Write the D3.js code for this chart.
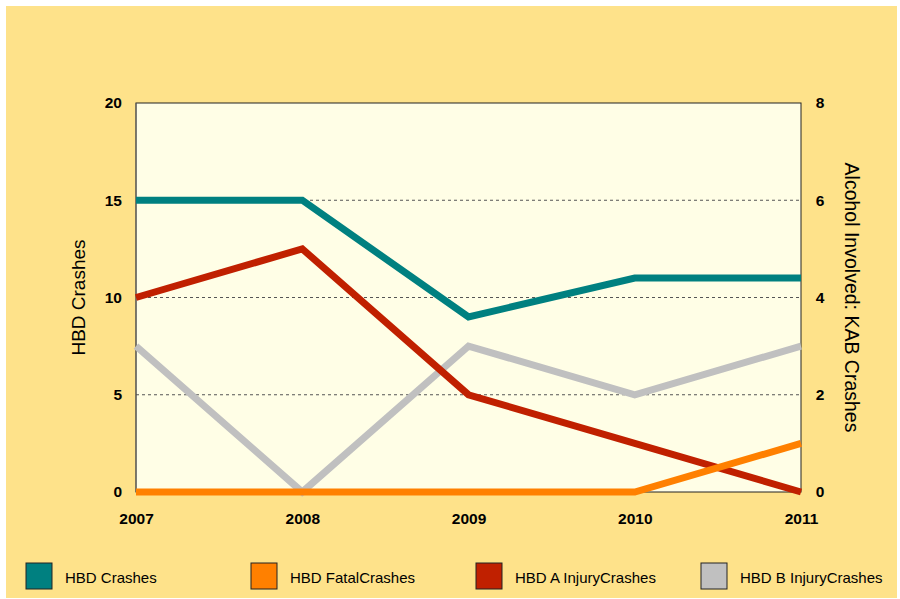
<!DOCTYPE html>
<html>
<head>
<meta charset="utf-8">
<script src="https://cdn.jsdelivr.net/npm/d3@7"></script>
<style>
  body { margin: 0; background: #fff; }
  text { font-family: "Liberation Sans", Arial, sans-serif; }
</style>
</head>
<body>
<svg width="900" height="599"></svg>
<script>
// data
var years = ["2007", "2008", "2009", "2010", "2011"];
var hbdCrashes = [15, 15, 9, 11, 11];          // left axis
var fatalCrashes = [0, 0, 0, 0, 1];            // right axis
var aInjuryCrashes = [4, 5, 2, 1, 0];          // right axis
var bInjuryCrashes = [3, 0, 3, 2, 3];          // right axis
var leftTicks = [0, 5, 10, 15, 20];
var rightTicks = [0, 2, 4, 6, 8];

var series = [
  { name: "HBD Crashes", values: hbdCrashes, axis: "left", color: "#008080" },
  { name: "HBD FatalCrashes", values: fatalCrashes, axis: "right", color: "#FF8000" },
  { name: "HBD A InjuryCrashes", values: aInjuryCrashes, axis: "right", color: "#C02000" },
  { name: "HBD B InjuryCrashes", values: bInjuryCrashes, axis: "right", color: "#C0C0C0" }
];

var svg = d3.select("svg");
var plot = { left: 136, top: 103, right: 801, bottom: 492 };

svg.append("rect")
  .attr("x", 6).attr("y", 6)
  .attr("width", 891).attr("height", 592)
  .attr("fill", "#FEE28A");

var x = d3.scalePoint().domain(years).range([plot.left, plot.right]);
var yL = d3.scaleLinear().domain([0, 20]).range([plot.bottom, plot.top]);
var yR = d3.scaleLinear().domain([0, 8]).range([plot.bottom, plot.top]);

svg.append("rect")
  .attr("x", plot.left).attr("y", plot.top)
  .attr("width", plot.right - plot.left).attr("height", plot.bottom - plot.top)
  .attr("fill", "#FFFEE6");

// gridlines
svg.append("g")
  .selectAll("line")
  .data(leftTicks.filter(function(d) { return d > 0 && d < 20; }))
  .enter()
  .append("line")
  .attr("x1", plot.left).attr("x2", plot.right)
  .attr("y1", function(d) { return yL(d); })
  .attr("y2", function(d) { return yL(d); })
  .attr("stroke", "#555")
  .attr("stroke-width", 1)
  .attr("stroke-dasharray", "3,3");

// frame
svg.append("rect")
  .attr("x", plot.left).attr("y", plot.top)
  .attr("width", plot.right - plot.left).attr("height", plot.bottom - plot.top)
  .attr("fill", "none")
  .attr("stroke", "#222")
  .attr("stroke-width", 1);
svg.append("line")
  .attr("x1", plot.left).attr("x2", plot.left)
  .attr("y1", plot.top).attr("y2", plot.bottom)
  .attr("stroke", "#666");

// lines
var line = function(s) {
  var yy = s.axis == "left" ? yL : yR;
  return d3.line()
    .x(function(d, i) { return x(years[i]); })
    .y(function(d) { return yy(d); })(s.values);
};

svg.append("g")
  .selectAll("path")
  .data(series.slice().reverse())
  .enter()
  .append("path")
  .attr("d", line)
  .attr("fill", "none")
  .attr("stroke", function(d) { return d.color; })
  .attr("stroke-width", 7)
  .attr("stroke-linejoin", "miter");

// axes
var axL = svg.append("g")
  .attr("transform", "translate(" + (plot.left - 14) + ",0)")
  .call(d3.axisLeft(yL).tickValues(leftTicks).tickSize(0).tickPadding(0));
var axR = svg.append("g")
  .attr("transform", "translate(" + (plot.right + 12) + ",0)")
  .call(d3.axisRight(yR).tickValues(rightTicks).tickSize(0).tickPadding(0));
var axB = svg.append("g")
  .attr("transform", "translate(0," + (plot.bottom + 21) + ")")
  .call(d3.axisBottom(x).tickSize(0).tickPadding(0));

[axL, axR, axB].forEach(function(a) {
  a.select(".domain").remove();
  a.selectAll("text")
    .attr("font-family", "Liberation Sans, Arial, sans-serif")
    .attr("font-size", 15.5)
    .attr("font-weight", "bold")
    .attr("fill", "#000");
});
axR.selectAll("text").attr("text-anchor", "middle").attr("dx", 7);

// axis titles
svg.append("text")
  .attr("transform", "translate(85," + ((plot.top + plot.bottom) / 2) + ") rotate(-90)")
  .attr("text-anchor", "middle")
  .attr("font-size", 19)
  .text("HBD Crashes");
svg.append("text")
  .attr("transform", "translate(845," + ((plot.top + plot.bottom) / 2) + ") rotate(90)")
  .attr("text-anchor", "middle")
  .attr("font-size", 19.5)
  .text("Alcohol Involved: KAB Crashes");

// legend
var legX = [26, 251, 476, 701];
var leg = svg.append("g")
  .selectAll("g")
  .data(series)
  .enter()
  .append("g")
  .attr("transform", function(d, i) { return "translate(" + legX[i] + ",563)"; });
leg.append("rect")
  .attr("width", 26).attr("height", 26)
  .attr("fill", function(d) { return d.color; })
  .attr("stroke", "#222")
  .attr("stroke-width", 1);
leg.append("text")
  .attr("x", 39).attr("y", 20)
  .attr("font-size", 15)
  .text(function(d) { return d.name; });
</script>
</body>
</html>
